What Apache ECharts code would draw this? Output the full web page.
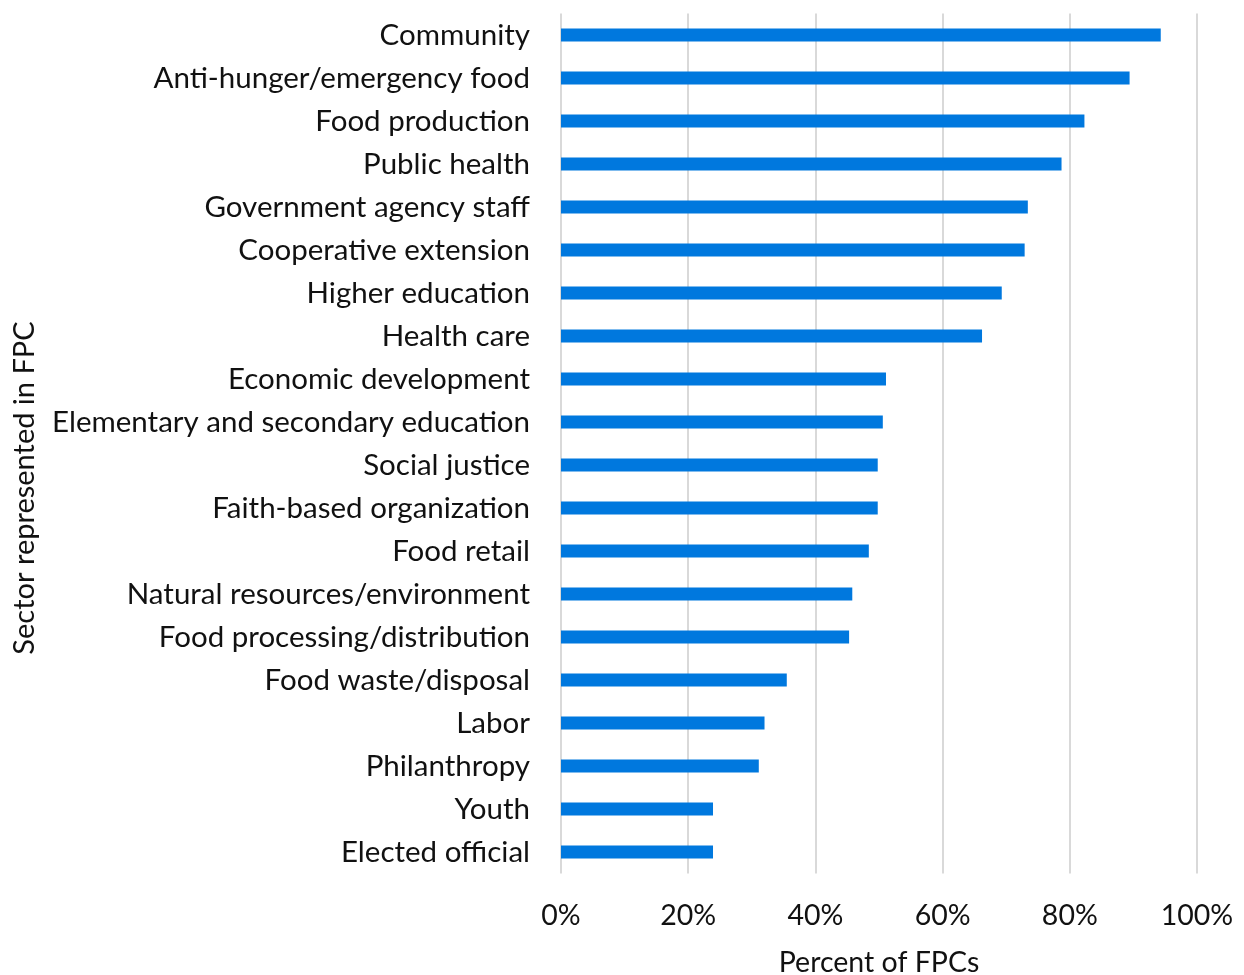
<!DOCTYPE html>
<html>
<head>
<meta charset="utf-8">
<title>Sectors represented in FPCs</title>
<script src="https://cdn.jsdelivr.net/npm/echarts@6/dist/echarts.min.js"></script>
<style>
  html, body { margin: 0; padding: 0; background: #ffffff; }
  #chart { width: 1244px; height: 975px; }
</style>
</head>
<body>
<div id="chart"></div>
<script>
// Sectors, listed top to bottom
const sectors = [
  'Community',
  'Anti-hunger/emergency food',
  'Food production',
  'Public health',
  'Government agency staff',
  'Cooperative extension',
  'Higher education',
  'Health care',
  'Economic development',
  'Elementary and secondary education',
  'Social justice',
  'Faith-based organization',
  'Food retail',
  'Natural resources/environment',
  'Food processing/distribution',
  'Food waste/disposal',
  'Labor',
  'Philanthropy',
  'Youth',
  'Elected official'
];

// Share of FPCs (%) with each sector represented
const percentOfFPCs = [
  94.3, 89.4, 82.3, 78.7, 73.4, 72.9, 69.3, 66.2, 51.1, 50.6,
  49.8, 49.8, 48.4, 45.8, 45.3, 35.5, 32.0, 31.1, 23.9, 23.9
];

// Value axis ticks
const xTicks = [0, 20, 40, 60, 80, 100];

const xTitle = 'Percent of FPCs';
const yTitle = 'Sector represented in FPC';

const FONT = 'Lato, "Open Sans", sans-serif';
const TEXT = '#111111';

const chart = echarts.init(document.getElementById('chart'), null, { renderer: 'canvas' });

chart.setOption({
  animation: false,
  backgroundColor: '#ffffff',
  grid: {
    left: 561, right: 47, top: 13.5, bottom: 101.5,
    containLabel: false,
    outerBoundsMode: 'none'
  },
  xAxis: {
    type: 'value',
    min: xTicks[0],
    max: xTicks[xTicks.length - 1],
    interval: xTicks[1] - xTicks[0],
    axisLine: { show: false },
    axisTick: { show: false },
    splitLine: { show: true, lineStyle: { color: '#d9d9d9', width: 2 } },
    axisLabel: {
      formatter: v => v + '%',
      fontFamily: FONT, fontSize: 28.5, color: TEXT, margin: 28
    },
    name: xTitle,
    nameLocation: 'middle',
    nameGap: 75,
    nameTextStyle: { fontFamily: FONT, fontSize: 28.5, color: TEXT }
  },
  yAxis: {
    type: 'category',
    data: sectors,
    inverse: true,
    axisLine: { show: false },
    axisTick: { show: false },
    axisLabel: { fontFamily: FONT, fontSize: 29.5, color: TEXT, margin: 31 }
  },
  graphic: [{
    type: 'text',
    x: 25,
    y: 488,
    rotation: Math.PI / 2,
    style: {
      text: yTitle,
      font: '29px ' + FONT,
      fill: TEXT,
      align: 'center',
      verticalAlign: 'middle'
    }
  }],
  series: [{
    type: 'bar',
    data: percentOfFPCs,
    barWidth: 13,
    itemStyle: { color: '#0078de' }
  }]
});
</script>
</body>
</html>
